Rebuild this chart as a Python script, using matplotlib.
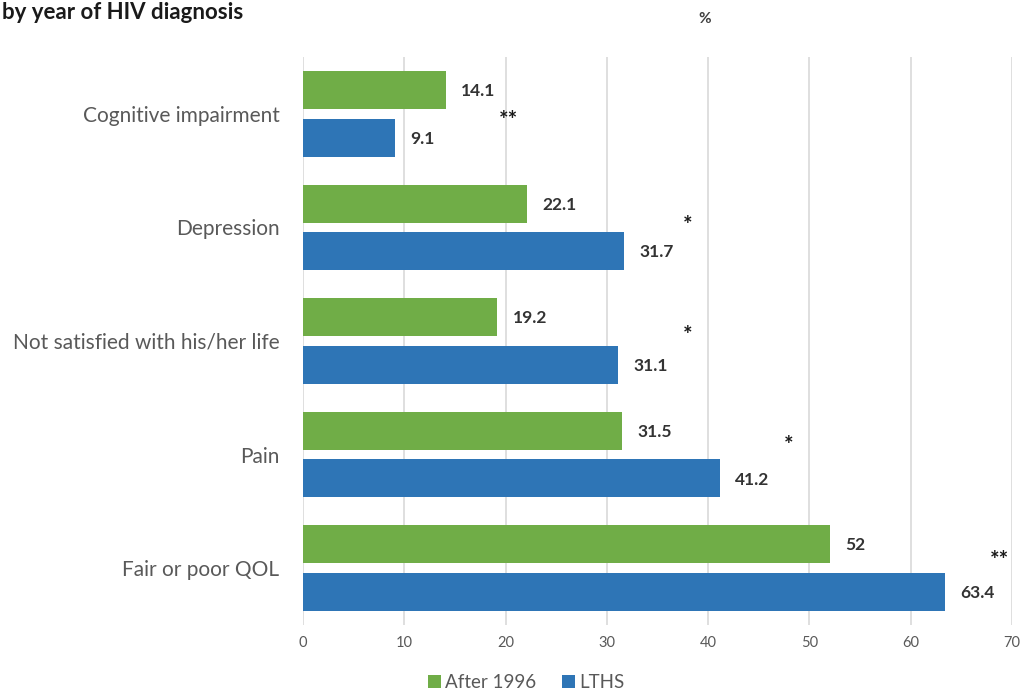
import numpy as np
import matplotlib.pyplot as plt

plt.rcParams['font.family'] = ['Lato', 'DejaVu Sans']

# data: share (%) of each outcome by diagnosis period
categories = ['Cognitive impairment', 'Depression', 'Not satisfied with his/her life',
              'Pain', 'Fair or poor QOL']
after_1996 = [14.1, 22.1, 19.2, 31.5, 52]
lths = [9.1, 31.7, 31.1, 41.2, 63.4]
value_labels_after = ['14.1', '22.1', '19.2', '31.5', '52']
value_labels_lths = ['9.1', '31.7', '31.1', '41.2', '63.4']
sig_marks = ['**', '*', '*', '*', '**']
sig_x = [20.3, 38.0, 38.0, 48.0, 68.8]
sig_dy = [0.0, -0.08, -0.11, -0.14, -0.13]
xticks = [0, 10, 20, 30, 40, 50, 60, 70]

green = '#70AD47'
blue = '#2E75B6'

fig = plt.figure(figsize=(10.21, 6.94), dpi=100)
ax = fig.add_axes([0.2968, 0.0994, 0.6942, 0.8185])

y = np.arange(len(categories))
off = 0.21
h = 0.335
ax.barh(y - off, after_1996, height=h, color=green, label='After 1996', zorder=3)
ax.barh(y + off, lths, height=h, color=blue, label='LTHS', zorder=3)

for yi, v, s in zip(y, after_1996, value_labels_after):
    ax.text(v + 1.5, yi - off + 0.01, s, va='center', ha='left',
            fontsize=12.5, fontweight='bold', color='#333333')
for yi, v, s in zip(y, lths, value_labels_lths):
    ax.text(v + 1.5, yi + off + 0.01, s, va='center', ha='left',
            fontsize=12.5, fontweight='bold', color='#333333')
for yi, xs, m, dy in zip(y, sig_x, sig_marks, sig_dy):
    ax.text(xs, yi + dy + 0.06, m, va='center', ha='center', fontsize=16,
            fontweight='bold', color='#1a1a1a')

ax.set_xlim(0, 70)
ax.set_ylim(len(categories) - 0.5, -0.5)
ax.set_yticks(y)
ax.set_yticklabels(categories, fontsize=15, color='#595959')
ax.set_xticks(xticks)
ax.set_xticklabels([str(t) for t in xticks], fontsize=10.5, color='#595959')
ax.tick_params(axis='both', length=0)
ax.tick_params(axis='y', pad=17)
ax.tick_params(axis='x', pad=8)
ax.grid(axis='x', color='#d9d9d9', linewidth=1.2, zorder=0)
for sp in ax.spines.values():
    sp.set_visible(False)

fig.text(0.002, 0.982, 'by year of HIV diagnosis', ha='left', va='center',
         fontsize=16, fontweight='bold', color='#1a1a1a')
fig.text(0.69, 0.972, '%', ha='center', va='center', fontsize=11,
         fontweight='bold', color='#404040')

fig.legend(loc='center', bbox_to_anchor=(0.515, 0.016), ncol=2, frameon=False,
           fontsize=13.5, labelcolor='#595959', handlelength=0.7, handleheight=0.7,
           handletextpad=0.2, columnspacing=1.4)

fig.savefig('out.png', dpi=100)
